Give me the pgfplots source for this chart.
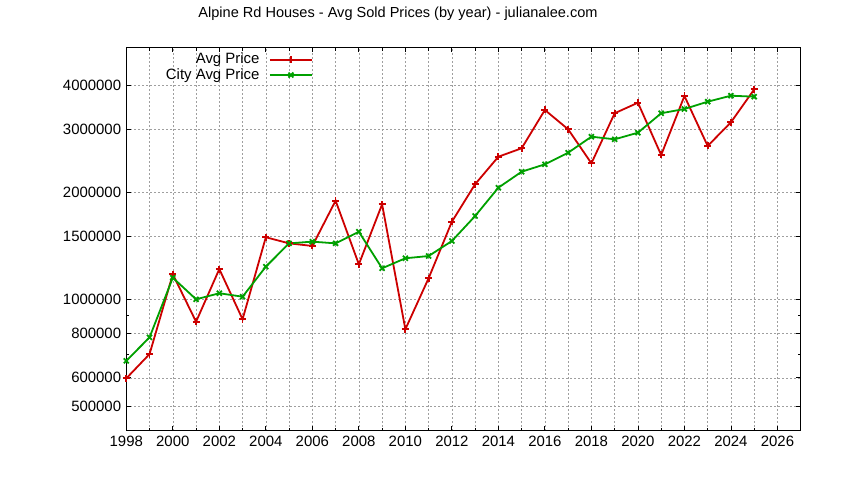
\documentclass[border=0pt]{standalone}
\usepackage{pgfplots}
\pgfplotsset{compat=1.18}
\usepackage{fontspec}
\setmainfont{Liberation Sans}
\definecolor{gred}{RGB}{204,0,0}
\definecolor{ggreen}{RGB}{0,160,0}
\begin{document}
\fontsize{15}{18}\selectfont
\begin{tikzpicture}
\begin{axis}[
  at={(126.3bp,49bp)}, anchor=south west,
  scale only axis, width=674.4bp, height=383bp,
  xmin=1998, xmax=2027,
  xtick={1998,2000,...,2026},
  minor xtick={1999,2001,...,2027},
  ymode=log,
  ymin=425300, ymax=5085000,
  ytick={500000,600000,800000,1000000,1500000,2000000,3000000,4000000},
  yticklabels={500000,600000,800000,1000000,1500000,2000000,3000000,4000000},
  minor ytick={700000,900000},
  xmajorgrids, xminorgrids, ymajorgrids, yminorgrids=false,
  major grid style={gray!75, line width=0.6bp, dash pattern=on 2bp off 2bp},
  minor grid style={gray!75, line width=0.6bp, dash pattern=on 2bp off 2bp},
  tick align=inside,
  major tick length=4.5bp, minor tick length=3bp,
  tick style={black, line width=0.8bp},
  axis line style={black, line width=1bp},
  /pgf/number format/assume math mode=true,
  xticklabel={\pgfmathprintnumber[1000 sep={},fixed]{\tick}},
  tick label style={font=\fontsize{15}{18}\selectfont},
  legend style={at={(0.277,1)}, anchor=north east, draw=none, fill=none, yshift=-3.5bp,
    font=\fontsize{15}{15.7}\selectfont, inner sep=0bp, row sep=-0.7bp,
    nodes={inner sep=1.5bp}},
  legend cell align=right,
  legend plot pos=right,
  legend image code/.code={\path (0bp,0bp); \draw[line width=2bp] (8bp,0bp) -- (50bp,0bp); \draw[mark repeat=2,mark phase=2] plot coordinates {(8bp,0bp) (29bp,0bp) (50bp,0bp)};},
]
\addplot[gred, line width=1.8bp, mark=+, mark size=3.5bp, mark options={line width=1.8bp}] coordinates {
(1998,598000) (1999,700000) (2000,1174000) (2001,863000) (2002,1214000)
(2003,877000) (2004,1492000) (2005,1434000) (2006,1410000) (2007,1891000)
(2008,1252000) (2009,1847000) (2010,822000) (2011,1144000) (2012,1650000)
(2013,2104000) (2014,2514000) (2015,2655000) (2016,3403000) (2017,3002000)
(2018,2409000) (2019,3331000) (2020,3567000) (2021,2542000) (2022,3726000)
(2023,2695000) (2024,3142000) (2025,3890000)
};
\addlegendentry{Avg Price}
\addplot[ggreen, line width=1.8bp, mark=x, mark size=3.5bp, mark options={line width=1.8bp}] coordinates {
(1998,670000) (1999,780000) (2000,1148000) (2001,998000) (2002,1038000)
(2003,1015000) (2004,1233000) (2005,1434000) (2006,1450000) (2007,1434000)
(2008,1546000) (2009,1220000) (2010,1302000) (2011,1321000) (2012,1456000)
(2013,1712000) (2014,2057000) (2015,2281000) (2016,2393000) (2017,2580000)
(2018,2862000) (2019,2814000) (2020,2937000) (2021,3331000) (2022,3425000)
(2023,3591000) (2024,3733000) (2025,3709000)
};
\addlegendentry{City Avg Price}
\end{axis}
\node[anchor=base, inner sep=0pt, font=\fontsize{14.6}{18}\selectfont] at (398bp,462.7bp) {Alpine Rd Houses - Avg Sold Prices (by year) - julianalee.com};
\pgfresetboundingbox
\useasboundingbox (0,0) rectangle (844bp,480bp);
\end{tikzpicture}
\end{document}
